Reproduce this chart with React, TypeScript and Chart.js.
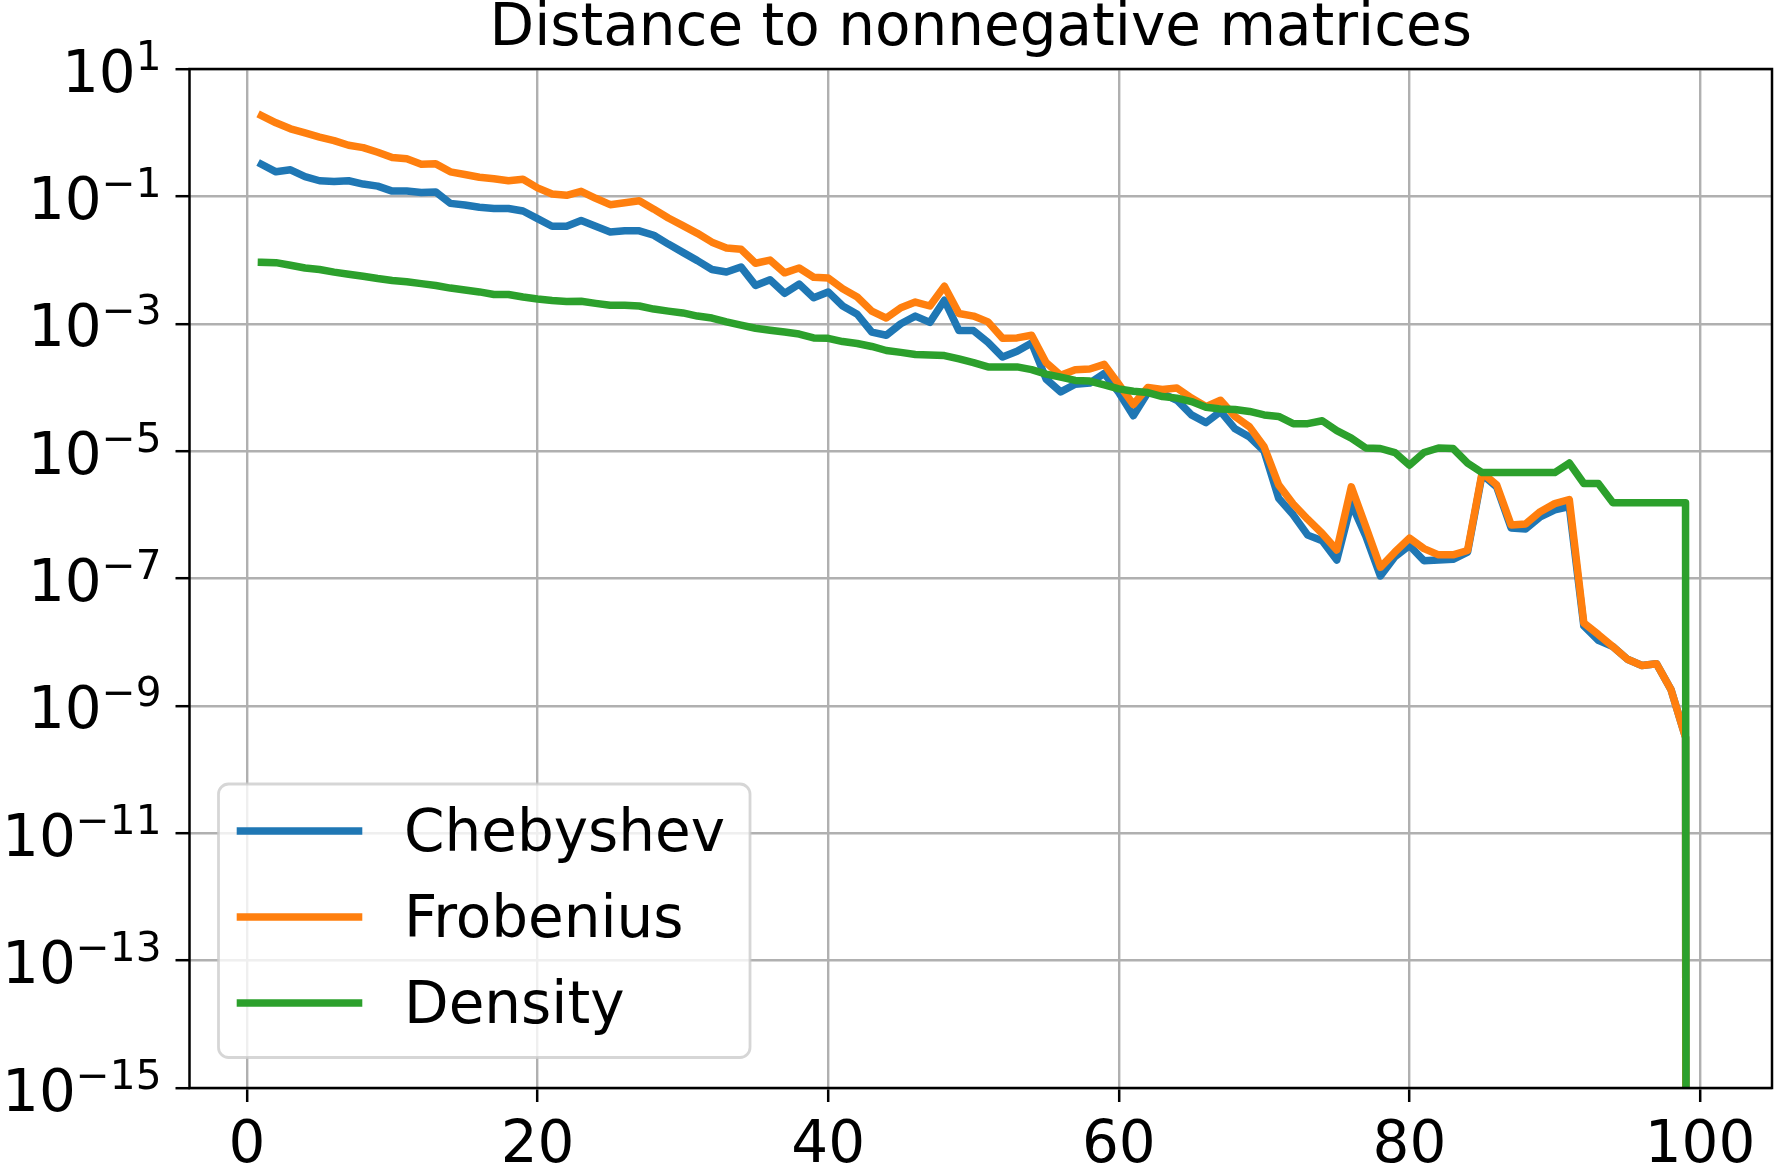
import { useEffect, useRef } from "react";
import { Chart, registerables } from "chart.js";

Chart.register(...registerables);

// iteration index (x axis)
const steps = [
  1, 2, 3, 4, 5, 6, 7, 8, 9, 10, 11, 12, 13, 14, 15, 16, 17, 18, 19, 20,
  21, 22, 23, 24, 25, 26, 27, 28, 29, 30, 31, 32, 33, 34, 35, 36, 37, 38, 39, 40,
  41, 42, 43, 44, 45, 46, 47, 48, 49, 50, 51, 52, 53, 54, 55, 56, 57, 58, 59, 60,
  61, 62, 63, 64, 65, 66, 67, 68, 69, 70, 71, 72, 73, 74, 75, 76, 77, 78, 79, 80,
  81, 82, 83, 84, 85, 86, 87, 88, 89, 90, 91, 92, 93, 94, 95, 96, 97, 98, 99, 100,
];

const chebyshev = [
  0.32, 0.243, 0.261, 0.204, 0.176, 0.171, 0.176, 0.156, 0.145, 0.121,
  0.121, 0.115, 0.117, 0.0776, 0.0733, 0.0676, 0.0646, 0.0646, 0.0589, 0.0447,
  0.0339, 0.0339, 0.0417, 0.0339, 0.0275, 0.0288, 0.0288, 0.0245, 0.0178, 0.0132,
  0.0098, 0.0071, 0.0065, 0.0078, 0.004, 0.0049, 0.003, 0.0042, 0.00257, 0.00316,
  0.0019, 0.00141, 7.4e-4, 6.6e-4, 1.0e-3, 1.32e-3, 1.05e-3, 2.34e-3, 7.8e-4, 7.8e-4,
  5.1e-4, 3.0e-4, 3.7e-4, 5.0e-4, 1.35e-4, 8.5e-5, 1.12e-4, 1.17e-4, 1.66e-4, 8.3e-5,
  3.6e-5, 8.3e-5, 8.0e-5, 6.3e-5, 3.7e-5, 2.8e-5, 4.2e-5, 2.24e-5, 1.66e-5, 1.0e-5,
  1.82e-6, 1.0e-6, 4.8e-7, 3.9e-7, 1.95e-7, 1.5e-6, 4.6e-7, 1.1e-7, 2.2e-7, 3.3e-7,
  1.9e-7, 1.95e-7, 2.0e-7, 2.6e-7, 4.3e-6, 2.75e-6, 6.2e-7, 6.0e-7, 9.3e-7, 1.2e-6,
  1.35e-6, 1.8e-8, 1.07e-8, 8.5e-9, 5.4e-9, 4.3e-9, 4.6e-9, 1.8e-9, 3.2e-10, 0,
];

const frobenius = [
  1.86, 1.43, 1.15, 0.99, 0.855, 0.75, 0.634, 0.583, 0.493, 0.407,
  0.389, 0.32, 0.324, 0.243, 0.221, 0.2, 0.189, 0.176, 0.186, 0.136,
  0.109, 0.104, 0.12, 0.0933, 0.0741, 0.0794, 0.0851, 0.063, 0.0457, 0.0347,
  0.0263, 0.0191, 0.0155, 0.0148, 0.00891, 0.01, 0.0063, 0.0075, 0.00537, 0.00525,
  0.00355, 0.00263, 0.00158, 0.00123, 0.00178, 0.00219, 0.0019, 0.00389, 0.00145, 0.00132,
  0.00107, 5.9e-4, 6.0e-4, 6.6e-4, 2.45e-4, 1.55e-4, 1.9e-4, 1.95e-4, 2.3e-4, 1.12e-4,
  5.4e-5, 1.0e-4, 9.3e-5, 9.8e-5, 6.8e-5, 5.0e-5, 6.3e-5, 3.5e-5, 2.4e-5, 1.17e-5,
  2.95e-6, 1.48e-6, 8.5e-7, 5.1e-7, 2.8e-7, 2.75e-6, 6.5e-7, 1.5e-7, 2.6e-7, 4.3e-7,
  2.95e-7, 2.35e-7, 2.35e-7, 2.75e-7, 4.6e-6, 2.95e-6, 6.9e-7, 7.2e-7, 1.12e-6, 1.5e-6,
  1.74e-6, 2.0e-8, 1.32e-8, 8.5e-9, 5.4e-9, 4.3e-9, 4.6e-9, 1.8e-9, 3.2e-10, 0,
];

const density = [
  0.0092, 0.0091, 0.0083, 0.0075, 0.0071, 0.00646, 0.006, 0.00556, 0.00513, 0.00479,
  0.00457, 0.00427, 0.00398, 0.00363, 0.00339, 0.00316, 0.00288, 0.00288, 0.00263, 0.00245,
  0.00232, 0.00224, 0.00226, 0.00209, 0.00195, 0.00195, 0.0019, 0.0017, 0.00158, 0.00148,
  0.00132, 0.00123, 0.00107, 9.5e-4, 8.5e-4, 7.9e-4, 7.4e-4, 6.9e-4, 6.0e-4, 5.9e-4,
  5.25e-4, 4.9e-4, 4.4e-4, 3.8e-4, 3.55e-4, 3.3e-4, 3.24e-4, 3.16e-4, 2.8e-4, 2.45e-4,
  2.1e-4, 2.1e-4, 2.1e-4, 1.9e-4, 1.62e-4, 1.45e-4, 1.29e-4, 1.26e-4, 1.1e-4, 9.5e-5,
  8.7e-5, 8.3e-5, 7.2e-5, 6.8e-5, 6.0e-5, 4.9e-5, 4.6e-5, 4.5e-5, 4.2e-5, 3.7e-5,
  3.5e-5, 2.7e-5, 2.7e-5, 3.0e-5, 2.1e-5, 1.6e-5, 1.12e-5, 1.1e-5, 9.5e-6, 6.0e-6,
  9.5e-6, 1.12e-5, 1.1e-5, 6.5e-6, 4.6e-6, 4.6e-6, 4.6e-6, 4.6e-6, 4.6e-6, 4.6e-6,
  6.5e-6, 3.1e-6, 3.1e-6, 1.55e-6, 1.55e-6, 1.55e-6, 1.55e-6, 1.55e-6, 1.55e-6, 0,
];

const xTicks = [0, 20, 40, 60, 80, 100];
const yTickExponents = [1, -1, -3, -5, -7, -9, -11, -13, -15];

const TITLE = "Distance to nonnegative matrices";
const FONT = '"DejaVu Sans", sans-serif';
const GRID = "#b0b0b0";

const series = [
  { label: "Chebyshev", values: chebyshev, color: "#1f77b4" },
  { label: "Frobenius", values: frobenius, color: "#ff7f0e" },
  { label: "Density", values: density, color: "#2ca02c" },
];

// log axis: non-positive values get clipped to a tiny number, like matplotlib does
const clipLog = (v: number) => (v > 0 ? v : 1e-300);

// spines, tick labels with superscripts, legend and title
const overlay = {
  id: "mplOverlay",
  afterDraw(chart: any) {
    const { ctx, chartArea: a, scales } = chart;
    ctx.save();

    ctx.strokeStyle = "#000";
    ctx.lineWidth = 2.5;
    ctx.strokeRect(a.left, a.top, a.right - a.left, a.bottom - a.top);

    // legend box
    const lx = a.left + 29;
    const ly = a.bottom - 304;
    ctx.beginPath();
    ctx.roundRect(lx, ly, 531.5, 273.5, 10);
    ctx.fillStyle = "rgba(255,255,255,0.8)";
    ctx.fill();
    ctx.strokeStyle = "rgba(204,204,204,0.8)";
    ctx.lineWidth = 2.8;
    ctx.stroke();

    ctx.font = `58px ${FONT}`;
    ctx.textAlign = "left";
    ctx.textBaseline = "alphabetic";
    series.forEach((s, i) => {
      const ry = ly + 47 + i * 86;
      ctx.beginPath();
      ctx.moveTo(lx + 18.2, ry);
      ctx.lineTo(lx + 143.8, ry);
      ctx.strokeStyle = s.color;
      ctx.lineWidth = 7.5;
      ctx.lineCap = "butt";
      ctx.stroke();
      ctx.fillStyle = "#000";
      ctx.fillText(s.label, lx + 185.5, ry + 20);
    });

    // y tick labels 10^n
    ctx.fillStyle = "#000";
    const right = a.left - 28;
    yTickExponents.forEach((e) => {
      const y = scales.y.getPixelForValue(Math.pow(10, e));
      const exp = e < 0 ? "\u2212" + Math.abs(e) : String(e);
      ctx.font = `58px ${FONT}`;
      const wBase = ctx.measureText("10").width;
      ctx.font = `40.6px ${FONT}`;
      const wExp = ctx.measureText(exp).width;
      ctx.fillText(exp, right - wExp, y + 0.5);
      ctx.font = `58px ${FONT}`;
      ctx.fillText("10", right - wExp - wBase, y + 22.5);
    });

    // x tick labels
    ctx.font = `58px ${FONT}`;
    ctx.textAlign = "center";
    xTicks.forEach((v) => {
      ctx.fillText(String(v), scales.x.getPixelForValue(v), a.bottom + 74);
    });

    // title
    ctx.fillText(TITLE, (a.left + a.right) / 2, a.top - 24);

    ctx.restore();
  },
};

export default function App() {
  const canvasRef = useRef<HTMLCanvasElement>(null);

  useEffect(() => {
    document.body.style.margin = "0";
    if (!canvasRef.current) return;

    const gridOpts = {
      color: GRID,
      lineWidth: 2.4,
      tickColor: "#000",
      tickWidth: 2.5,
      tickLength: 14,
      drawTicks: true,
    };

    const chart = new Chart(canvasRef.current, {
      type: "line",
      data: {
        datasets: series.map((s, i) => ({
          label: s.label,
          data: steps.map((x, j) => ({ x, y: clipLog(s.values[j]) })),
          borderColor: s.color,
          backgroundColor: s.color,
          borderWidth: 7.5,
          borderJoinStyle: "round",
          borderCapStyle: "square",
          pointRadius: 0,
          tension: 0,
          fill: false,
          clip: 0,
          order: series.length - i,
        })),
      },
      options: {
        responsive: false,
        animation: false,
        devicePixelRatio: 1,
        layout: { padding: { top: 69, right: 3, left: 0, bottom: 0 } },
        plugins: {
          legend: { display: false },
          title: { display: false },
          tooltip: { enabled: false },
        },
        scales: {
          x: {
            type: "linear",
            min: -3.95,
            max: 104.95,
            afterBuildTicks: (scale: any) => {
              scale.ticks = xTicks.map((v) => ({ value: v }));
            },
            afterFit: (scale: any) => {
              scale.height = 86;
            },
            ticks: { display: false },
            grid: gridOpts,
            border: { display: false },
          },
          y: {
            type: "logarithmic",
            min: 1e-15,
            max: 10,
            afterBuildTicks: (scale: any) => {
              scale.ticks = yTickExponents.map((e) => ({ value: Math.pow(10, e), major: true }));
            },
            afterFit: (scale: any) => {
              scale.width = 189.5;
            },
            ticks: { display: false },
            grid: gridOpts,
            border: { display: false },
          },
        },
      } as any,
      plugins: [overlay],
    });

    return () => chart.destroy();
  }, []);

  return (
    <div style={{ width: 1775, height: 1174, background: "#fff" }}>
      <canvas ref={canvasRef} width={1775} height={1174} style={{ display: "block" }} />
    </div>
  );
}
